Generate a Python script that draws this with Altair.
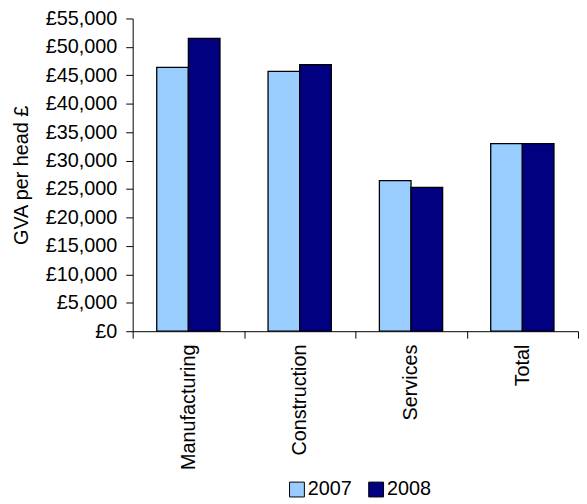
import altair as alt
import pandas as pd

categories = ["Manufacturing", "Construction", "Services", "Total"]
years = ["2007", "2008"]
values_2007 = [46400, 45700, 26500, 33000]
values_2008 = [51500, 46900, 25300, 33000]
y_ticks = list(range(0, 55001, 5000))
colors = ["#99CCFF", "#000080"]

rows = []
for c, a, b in zip(categories, values_2007, values_2008):
    rows.append({"sector": c, "year": "2007", "gva": a})
    rows.append({"sector": c, "year": "2008", "gva": b})
df = pd.DataFrame(rows)

FONT = "Liberation Sans"

chart = alt.Chart(df).mark_bar(stroke="black", strokeWidth=1.3).encode(
    x=alt.X("sector:N", sort=categories, title=None,
            scale=alt.Scale(paddingInner=0, paddingOuter=0),
            axis=alt.Axis(labelAngle=-90, tickBand="extent", tickSize=7,
                          labelPadding=6, domainColor="black", tickColor="black",
                          labelColor="black", labelFontSize=20, labelFont=FONT)),
    xOffset=alt.XOffset("year:N", sort=years,
                        scale=alt.Scale(paddingOuter=0.76, paddingInner=0)),
    y=alt.Y("gva:Q", title="GVA per head £",
            scale=alt.Scale(domain=[0, 55000], nice=False),
            axis=alt.Axis(values=y_ticks, grid=False, tickSize=7, labelPadding=9,
                          labelExpr='"£" + format(datum.value, ",")',
                          domainColor="black", tickColor="black", labelColor="black",
                          labelFontSize=20, labelFont=FONT,
                          titleFontSize=20, titleFont=FONT, titleFontWeight="normal",
                          titleColor="black", titlePadding=14)),
    color=alt.Color("year:N", sort=years,
                    scale=alt.Scale(domain=years, range=colors),
                    legend=alt.Legend(title=None, orient="none", direction="horizontal",
                                      legendX=156, legendY=466,
                                      symbolType="square", symbolSize=225,
                                      symbolStrokeColor="black", symbolStrokeWidth=1,
                                      labelFontSize=20, labelFont=FONT, labelColor="black",
                                      labelOffset=1, columnPadding=14)),
).properties(
    width=450, height=316,
    padding={"left": 3, "top": -2, "right": 0, "bottom": 0},
).configure_view(stroke=None)

chart.save("out.html", embed_options={"renderer": "svg", "actions": False})
